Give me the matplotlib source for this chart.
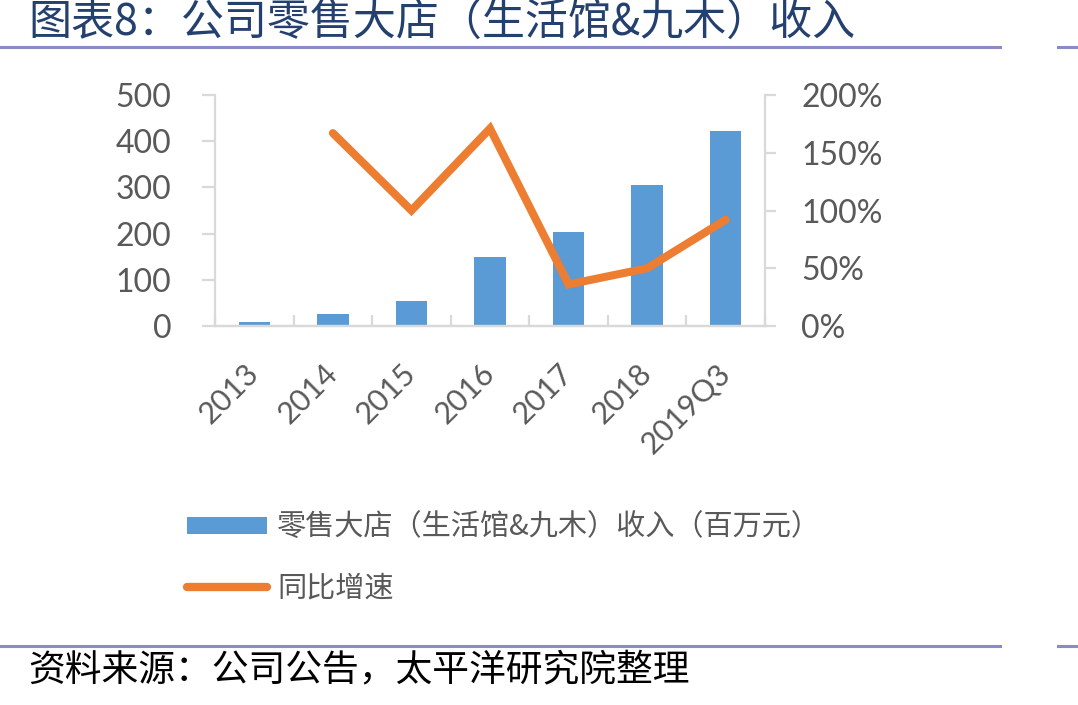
import matplotlib
matplotlib.use('Agg')
import matplotlib.pyplot as plt
import numpy as np
from matplotlib.lines import Line2D
from matplotlib.patches import Patch

plt.rcParams['font.family'] = ['Noto Sans CJK SC', 'DejaVu Sans']

# data
years = ['2013', '2014', '2015', '2016', '2017', '2018', '2019Q3']
revenue = [8, 26, 54, 150, 204, 306, 421]          # 百万元
growth = [np.nan, 167, 100, 171, 36, 50, 92]        # %

bar_color = '#5B9BD5'
line_color = '#ED7D31'
grey = '#595959'
spine_grey = '#D9D9D9'

fig = plt.figure(figsize=(10.78, 7.05), dpi=100)
ax = fig.add_axes([215 / 1078, 1 - 326 / 705, 550 / 1078, 231 / 705])
ax2 = ax.twinx()

x = np.arange(len(years))
ax.bar(x, revenue, width=0.4, color=bar_color, zorder=2)
ax2.plot(x, growth, color=line_color, lw=5.8, solid_capstyle='round',
         solid_joinstyle='miter')

ax.set_xlim(-0.5, len(years) - 0.5)
ax.set_ylim(0, 500)
ax.set_yticks(range(0, 501, 100))
ax2.set_ylim(0, 200)
ax2.set_yticks(range(0, 201, 50))
ax2.set_yticklabels([f'{v}%' for v in range(0, 201, 50)])

for a in (ax, ax2):
    for s in a.spines.values():
        s.set_color(spine_grey)
        s.set_linewidth(1.6)
    a.spines['top'].set_visible(False)
ax.spines['right'].set_visible(False)
ax2.spines['left'].set_visible(False)

ax.set_xticks(x)
ax.set_xticklabels(years, rotation=45, ha='right', va='center',
                   rotation_mode='anchor', family='Lato', fontsize=22,
                   color=grey)
ax.tick_params(axis='x', length=0, pad=31)
ax.set_xticks(np.arange(-0.5, len(years), 1), minor=True)
ax.tick_params(axis='x', which='minor', direction='in', length=8,
               width=1.6, color=spine_grey)

ax.tick_params(axis='y', direction='out', length=9.5, width=1.6,
               color=spine_grey, labelcolor=grey, labelsize=23, pad=22)
ax2.tick_params(axis='y', direction='out', length=8, width=1.6,
                color=spine_grey, labelcolor=grey, labelsize=23, pad=18)
for lab in ax.get_yticklabels() + ax2.get_yticklabels():
    lab.set_family('Lato')

# legend
handles = [Patch(facecolor=bar_color, edgecolor='none'),
           Line2D([0], [0], color=line_color, lw=6, solid_capstyle='round')]
labels = ['零售大店（生活馆&九木）收入（百万元）', '同比增速']
leg = fig.legend(handles, labels, loc='upper left',
                 bbox_to_anchor=(187 / 1078, 1 - 513 / 705),
                 frameon=False, fontsize=21, handlelength=2.75,
                 handleheight=0.55, handletextpad=0.35, labelspacing=1.05,
                 borderpad=0, borderaxespad=0)
for t in leg.get_texts():
    t.set_color(grey)

# title and header/footer rules
fig.text(28 / 1078, 1 - 24 / 705, '图表8：公司零售大店（生活馆&九木）收入',
         fontsize=31, color='#24406E', va='center', ha='left')
rule = '#8A8AC4'
for yy in (47, 646):
    fig.add_artist(Line2D([0, 1000 / 1078], [1 - yy / 705] * 2,
                          color=rule, lw=2.2, transform=fig.transFigure))
    fig.add_artist(Line2D([1058 / 1078, 1], [1 - yy / 705] * 2,
                          color=rule, lw=2.2, transform=fig.transFigure))

fig.text(28 / 1078, 1 - 670 / 705, '资料来源：公司公告，太平洋研究院整理',
         fontsize=26.5, color='black', va='center', ha='left', style='italic')

fig.savefig('out.png', dpi=100)
